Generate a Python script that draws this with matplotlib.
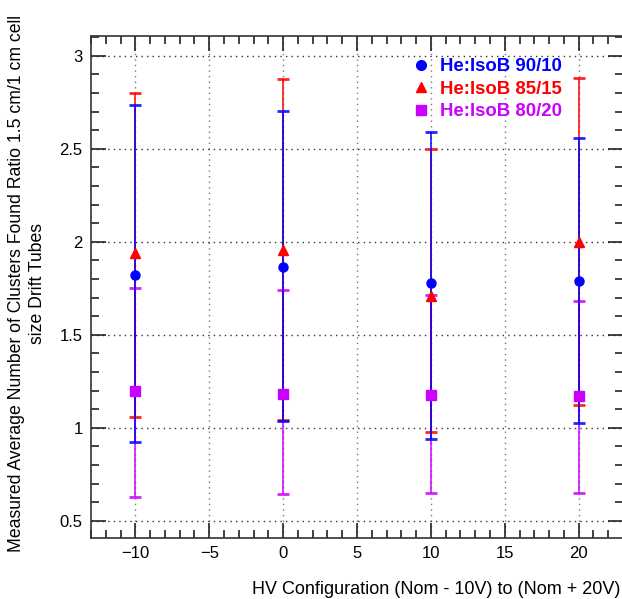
import numpy as np
import matplotlib
matplotlib.use("Agg")
from matplotlib import pyplot as plt
from matplotlib.lines import Line2D
from matplotlib.ticker import MultipleLocator

plt.rcParams["font.family"] = ["Liberation Sans", "DejaVu Sans"]

hv = [-10, 0, 10, 20]

labels = ["He:IsoB 90/10", "He:IsoB 85/15", "He:IsoB 80/20"]
colors = ["#0000ff", "#ff0000", "#cc00ff"]
markers = ["o", "^", "s"]

ratio_90_10 = [1.823, 1.867, 1.781, 1.790]
upper_90_10 = [2.737, 2.704, 2.593, 2.560]
lower_90_10 = [0.923, 1.036, 0.940, 1.027]

ratio_85_15 = [1.94, 1.955, 1.71, 2.0]
upper_85_15 = [2.800, 2.876, 2.498, 2.880]
lower_85_15 = [1.057, 1.040, 0.975, 1.120]

ratio_80_20 = [1.200, 1.181, 1.177, 1.170]
upper_80_20 = [1.754, 1.742, 1.715, 1.680]
lower_80_20 = [0.630, 0.645, 0.650, 0.650]

series = [
    (ratio_90_10, lower_90_10, upper_90_10),
    (ratio_85_15, lower_85_15, upper_85_15),
    (ratio_80_20, lower_80_20, upper_80_20),
]


def plot_ratio():
    W, H = 622, 599
    fig = plt.figure(figsize=(W / 100, H / 100), dpi=100)
    ax = fig.add_axes([91 / W, (H - 538) / H, (623 - 91) / W, (538 - 36) / H])

    # draw magenta first so blue sits on top, like the original
    zorders = [4, 3, 2]
    for (y, lo, hi), c, m, z in zip(series, colors, markers, zorders):
        y = np.array(y)
        yerr = [y - np.array(lo), np.array(hi) - y]
        ax.errorbar(hv, y, yerr=yerr, fmt="none", ecolor=c, elinewidth=1.3,
                    capsize=4, capthick=2, alpha=0.85, zorder=z)
    ms = {"o": 6.5, "^": 7, "s": 7}
    for (y, lo, hi), c, m in zip(series, colors, markers):
        ax.plot(hv, y, ls="none", marker=m, color=c, ms=ms[m], zorder=6)

    ax.set_xlim(-13, 23)
    ax.set_ylim(0.407, 3.107)
    ax.xaxis.set_major_locator(MultipleLocator(5))
    ax.xaxis.set_minor_locator(MultipleLocator(1))
    ax.yaxis.set_major_locator(MultipleLocator(0.5))
    ax.yaxis.set_minor_locator(MultipleLocator(0.1))
    ax.yaxis.set_major_formatter(plt.FuncFormatter(lambda v, p: f"{v:g}"))
    ax.tick_params(which="both", direction="in", top=True, right=True,
                   labelsize=12, width=1.2, color="#222222")
    ax.tick_params(which="major", length=11, pad=6)
    ax.tick_params(which="minor", length=6)
    for s in ax.spines.values():
        s.set_linewidth(1.2)
        s.set_color("#333333")
    ax.grid(True, which="major", axis="y", ls=(0, (1, 3)), color="#333333", lw=1)
    ax.grid(True, which="major", axis="x", ls=(0, (1, 3)), color="#777777", lw=1)
    ax.set_axisbelow(True)

    ax.set_xlabel("HV Configuration (Nom - 10V) to (Nom + 20V)", fontsize=13)
    ax.xaxis.set_label_coords(0.995, -0.085)
    ax.xaxis.label.set_horizontalalignment("right")

    fig.text(27 / W, 1 - 284 / H,
             "Measured Average Number of Clusters Found Ratio 1.5 cm/1 cm cell\nsize Drift Tubes",
             rotation=90, ha="center", va="center", multialignment="center",
             fontsize=12.7, linespacing=1.25)

    handles = [Line2D([], [], ls="none", marker=m, color=c, ms=7)
               for c, m in zip(colors, markers)]
    leg = ax.legend(handles, labels, loc="upper left",
                    bbox_to_anchor=((414 - 91) / (623 - 91), 1 - (58 - 36) / (538 - 36)),
                    frameon=False, prop={"weight": "bold", "size": 13.4},
                    labelcolor=colors, handlelength=0.8, handletextpad=0.6,
                    labelspacing=0.3, borderpad=0, borderaxespad=0)
    leg.set_zorder(10)
    return fig


if __name__ == "__main__":
    fig = plot_ratio()
    fig.savefig("out.png", dpi=100)
